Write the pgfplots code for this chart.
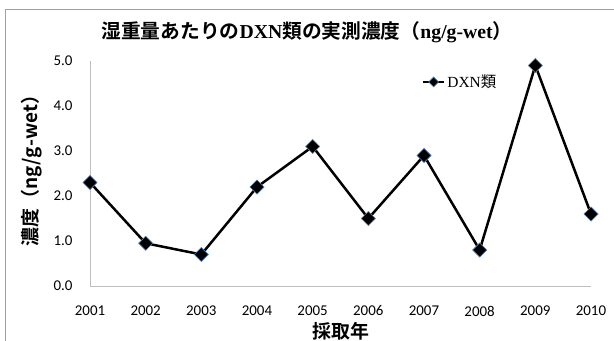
\documentclass[border=0pt]{standalone}
\usepackage{pgfplots}
\pgfplotsset{compat=1.18}
\usepackage{fontspec}
\setmainfont{Liberation Serif}
\newfontfamily\cjkb{Noto Sans CJK JP}[BoldFont=* Bold]
\newfontfamily\cjk{Noto Sans CJK JP}
\newfontfamily\tickfont{Carlito}

\definecolor{axisgray}{RGB}{190,190,190}
\definecolor{framegray}{RGB}{160,160,160}
\definecolor{markedge}{RGB}{79,129,189}

\begin{document}
\begin{tikzpicture}[x=1bp,y=1bp]
\useasboundingbox (0,0) rectangle (614,340);
% chart frame
\draw[framegray, line width=0.8bp] (5,-2) -- (5,331) -- (616,331);

\begin{axis}[
  at={(90bp,54bp)}, anchor=south west,
  scale only axis, width=501bp, height=225bp,
  xmin=2001, xmax=2010, ymin=0, ymax=5,
  axis x line*=bottom, axis y line*=left,
  axis line style={axisgray, line width=0.8bp},
  xtick={2001,...,2010}, ytick={0,1,...,5},
  major tick length=0pt,
  xticklabel style={font=\tickfont\fontsize{15}{17}\selectfont, anchor=center,
    yshift=-25bp, inner sep=0pt},
  yticklabel style={font=\tickfont\fontsize{15}{17}\selectfont, anchor=east, xshift=-14bp},
  xticklabel={\pgfmathprintnumber[1000 sep={}]{\tick}},
  yticklabel={\pgfmathprintnumber[fixed,fixed zerofill,precision=1]{\tick}},
  /pgf/number format/assume math mode=true,
  clip=false,
  legend style={draw=none, fill=none, at={(0.662,0.907)}, anchor=west,
    font=\fontsize{15.5}{17}\selectfont, inner sep=0pt,
    legend cell align=left},
  legend image code/.code={
    \draw[#1] (0bp,0bp) -- (21bp,0bp);
    \draw[#1, only marks, mark size=3.5bp] plot coordinates {(10.5bp,0bp)};
  },
]
\addplot[black, line width=2.5bp,
  mark=square*, mark size=5bp,
  mark options={rotate=45, fill=black, draw=markedge, line width=0.6bp}]
  coordinates {
    (2001,2.3) (2002,0.95) (2003,0.7) (2004,2.2) (2005,3.1)
    (2006,1.5) (2007,2.9) (2008,0.8) (2009,4.9) (2010,1.6)
  };
\addlegendentry{DXN{\cjk 類}}
\end{axis}

% title and axis titles
\node[font=\fontsize{19.8}{22}\selectfont\bfseries] at (307,308)
  {{\cjkb\bfseries 湿重量あたりの}DXN{\cjkb\bfseries 類の実測濃度（}ng/g-wet{\cjkb\bfseries ）}};
\node[rotate=90, font=\cjkb\bfseries\fontsize{19}{21}\selectfont] at (32,174)
  {濃度（ng/g-wet）};
\node[font=\cjkb\bfseries\fontsize{19}{21}\selectfont, inner sep=0pt] at (341,9) {採取年};
\end{tikzpicture}
\end{document}
